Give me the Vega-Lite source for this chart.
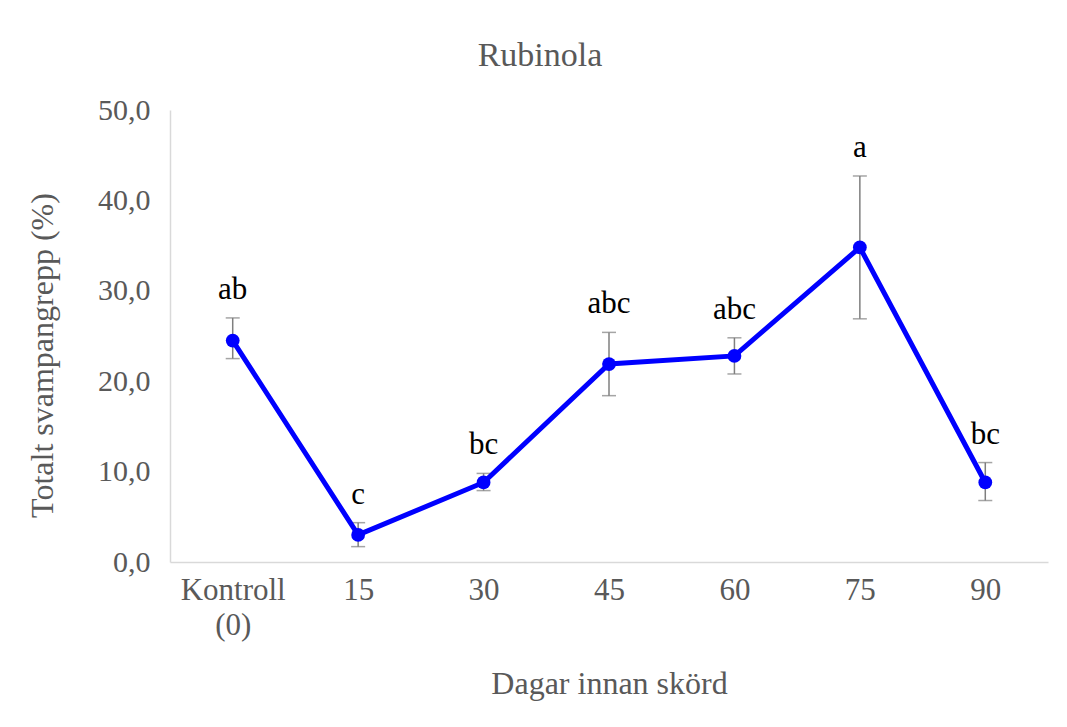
{
  "$schema": "https://vega.github.io/schema/vega-lite/v6.json",
  "width": 878,
  "height": 452,
  "autosize": {"type": "none"},
  "padding": {"left": 170, "top": 110, "right": 19, "bottom": 165},
  "background": "white",
  "config": {
    "font": "Times New Roman, Liberation Serif, serif",
    "view": {"stroke": null},
    "axis": {"grid": false, "ticks": false, "domainColor": "#d9d9d9", "domainWidth": 1.5, "labelColor": "#595959", "titleColor": "#595959", "labelFont": "Times New Roman, Liberation Serif, serif", "titleFont": "Times New Roman, Liberation Serif, serif", "titleFontWeight": "normal"}
  },
  "title": {"text": "Rubinola", "fontSize": 34, "font": "Times New Roman, Liberation Serif, serif", "fontWeight": "normal", "color": "#595959", "anchor": "middle", "dx": -69, "offset": 22},
  "data": {"values": [
    {"dag": "Kontroll (0)", "mean": 24.5, "lower": 22.5, "upper": 27.0, "label": "ab"},
    {"dag": "15", "mean": 3.0, "lower": 1.7, "upper": 4.35, "label": "c"},
    {"dag": "30", "mean": 8.8, "lower": 7.9, "upper": 9.8, "label": "bc"},
    {"dag": "45", "mean": 21.9, "lower": 18.4, "upper": 25.4, "label": "abc"},
    {"dag": "60", "mean": 22.8, "lower": 20.8, "upper": 24.8, "label": "abc"},
    {"dag": "75", "mean": 34.8, "lower": 26.9, "upper": 42.7, "label": "a"},
    {"dag": "90", "mean": 8.8, "lower": 6.8, "upper": 11.0, "label": "bc"}
  ]},
  "encoding": {
    "x": {"field": "dag", "type": "ordinal", "sort": null,
      "scale": {"type": "point", "padding": 0.5},
      "axis": {"title": "Dagar innan skörd", "labelAngle": 0, "labelFontSize": 31, "titleFontSize": 32, "labelPadding": 13, "titlePadding": 28,
        "labelExpr": "datum.label == 'Kontroll (0)' ? ['Kontroll', '(0)'] : datum.label", "labelLineHeight": 35}}
  },
  "layer": [
    {
      "mark": {"type": "rule", "color": "#7f7f7f", "strokeWidth": 1.5},
      "encoding": {
        "y": {"field": "lower", "type": "quantitative", "scale": {"domain": [0, 50], "nice": false},
          "axis": {"title": "Totalt svampangrepp (%)", "values": [0, 10, 20, 30, 40, 50], "labelFontSize": 30, "titleFontSize": 32, "labelPadding": 20,
            "titleX": -128, "titleY": 245, "titleBaseline": "middle", "titleAnchor": "middle",
            "labelExpr": "replace(format(datum.value, '.1f'), '.', ',')"}},
        "y2": {"field": "upper"}
      }
    },
    {
      "mark": {"type": "tick", "color": "#7f7f7f", "thickness": 1.5, "size": 14, "orient": "horizontal"},
      "encoding": {"y": {"field": "lower", "type": "quantitative"}}
    },
    {
      "mark": {"type": "tick", "color": "#7f7f7f", "thickness": 1.5, "size": 14, "orient": "horizontal"},
      "encoding": {"y": {"field": "upper", "type": "quantitative"}}
    },
    {
      "mark": {"type": "line", "color": "#0000ff", "strokeWidth": 5},
      "encoding": {"y": {"field": "mean", "type": "quantitative"}}
    },
    {
      "mark": {"type": "point", "filled": true, "color": "#0000ff", "size": 190, "opacity": 1},
      "encoding": {"y": {"field": "mean", "type": "quantitative"}}
    },
    {
      "mark": {"type": "text", "fontSize": 31, "color": "#000000", "baseline": "alphabetic", "dy": -19, "font": "Times New Roman, Liberation Serif, serif"},
      "encoding": {"y": {"field": "upper", "type": "quantitative"}, "text": {"field": "label"}}
    }
  ]
}
